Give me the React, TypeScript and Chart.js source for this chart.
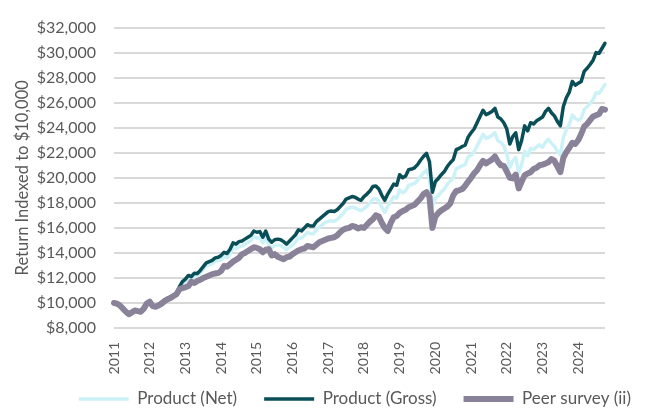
import React, { useEffect, useRef } from 'react';
import { Chart, registerables } from 'chart.js';

Chart.register(...registerables);

const years = ['2011', '2012', '2013', '2014', '2015', '2016', '2017', '2018', '2019', '2020', '2021', '2022', '2023', '2024'];

const seriesNames = ['Product (Net)', 'Product (Gross)', 'Peer survey (ii)'];

const grossValues = [
  10000, 9950, 9800, 9600, 9350, 9150, 9300, 9450, 9350, 9300, 9600, 10000,
  10100, 9750, 9750, 9900, 10050, 10250, 10350, 10500, 10600, 10800, 11300, 11700,
  11900, 12200, 12100, 12380, 12350, 12600, 12900, 13200, 13300, 13400, 13600, 13650,
  13800, 14050, 13950, 14300, 14800, 14700, 14900, 14950, 15100, 15250, 15400, 15750,
  15650, 15700, 15250, 15750, 15100, 14850, 15050, 15100, 15050, 14900, 14700, 14950,
  15200, 15450, 15850, 15750, 16000, 16250, 16150, 16150, 16500, 16700, 16900, 17100,
  17300, 17350, 17300, 17450, 17700, 17950, 18300, 18400, 18500, 18450, 18300, 18200,
  18500, 18700, 18950, 19300, 19350, 19100, 18600, 18200, 18700, 19100, 19500, 19400,
  20250, 20000, 20150, 20650, 20700, 20800, 21050, 21400, 21700, 21950, 21300, 18850,
  19700, 19950, 20250, 20500, 20900, 21200, 21450, 22250, 22350, 22500, 22600, 23250,
  23600, 23900, 24400, 24900, 25400, 25050, 25150, 25300, 25550, 24850, 24700, 24400,
  23900, 22700, 23300, 23600, 22250, 23000, 24150, 23750, 24400, 24300, 24550, 24700,
  24850, 25300, 25550, 25200, 24950, 24500, 24150, 25700, 26400, 26850, 27700, 27400,
  27550, 27700, 28500, 28750, 29050, 29400, 30000, 29950, 30350, 30750,
];

const netValues = [
  10000, 9940, 9790, 9585, 9330, 9130, 9275, 9420, 9320, 9265, 9560, 9955,
  10050, 9700, 9690, 9840, 9980, 10180, 10270, 10420, 10510, 10700, 11190, 11580,
  11720, 12010, 11910, 12180, 12150, 12390, 12680, 12970, 13060, 13150, 13340, 13390,
  13455, 13700, 13600, 13940, 14420, 14320, 14510, 14560, 14700, 14840, 14980, 15320,
  15180, 15230, 14790, 15270, 14640, 14400, 14590, 14640, 14590, 14440, 14250, 14490,
  14620, 14860, 15240, 15150, 15390, 15630, 15530, 15530, 15860, 16050, 16240, 16430,
  16520, 16570, 16520, 16660, 16900, 17140, 17470, 17570, 17660, 17610, 17470, 17370,
  17540, 17730, 17960, 18290, 18340, 18100, 17630, 17250, 17720, 18100, 18480, 18380,
  19030, 18800, 18940, 19410, 19460, 19550, 19780, 20110, 20390, 20630, 20020, 17720,
  18360, 18590, 18870, 19100, 19480, 19750, 19990, 20730, 20830, 20970, 21060, 21670,
  21800, 22080, 22540, 23000, 23470, 23150, 23240, 23380, 23610, 22960, 22820, 22550,
  21890, 20790, 21340, 21620, 20380, 21070, 22120, 21760, 22350, 22260, 22490, 22630,
  22440, 22850, 23070, 22760, 22530, 22120, 21810, 23210, 23840, 24250, 25010, 24740,
  24600, 24740, 25450, 25670, 25940, 26250, 26790, 26750, 27100, 27460,
];

const peerValues = [
  10000, 9950, 9800, 9550, 9300, 9100, 9250, 9400, 9350, 9300, 9550, 9950,
  10100, 9750, 9700, 9800, 9950, 10150, 10300, 10400, 10550, 10700, 11100, 11200,
  11250, 11350, 11700, 11600, 11750, 11850, 12000, 12100, 12200, 12300, 12350, 12400,
  12550, 12950, 12900, 13100, 13300, 13450, 13600, 13900, 14000, 14150, 14300, 14450,
  14400, 14300, 14050, 14250, 14300, 13800, 13900, 13700, 13600, 13500, 13650, 13700,
  13900, 14050, 14200, 14300, 14350, 14550, 14500, 14450, 14650, 14850, 14950, 15050,
  15150, 15200, 15250, 15400, 15650, 15850, 15950, 16000, 16150, 16100, 15950, 16050,
  16000, 16250, 16500, 16700, 17000, 16900, 16400, 16000, 15750, 16400, 16850, 16950,
  17200, 17350, 17450, 17650, 17750, 17850, 18100, 18350, 18700, 18850, 18500, 16000,
  16900, 17200, 17400, 17550, 17700, 17950, 18600, 18950, 19000, 19100, 19350, 19700,
  20000, 20350, 20600, 21000, 21350, 21150, 21300, 21450, 21700, 21300, 21000, 20950,
  20500, 20000, 19950, 20250, 19150, 19700, 20200, 20350, 20450, 20700, 20800, 21000,
  21050, 21150, 21250, 21500, 21350, 20900, 20450, 21600, 22050, 22400, 22800, 22700,
  23000, 23500, 24100, 24300, 24600, 24900, 25000, 25100, 25500, 25450,
];

const yMin = 8000;
const yMax = 32000;
const yStep = 2000;
const yTitle = 'Return Indexed to $10,000';

const TEXT = '#595959';
const FONT = 'Lato, "Open Sans", sans-serif';

export default function App() {
  const ref = useRef<HTMLCanvasElement | null>(null);

  useEffect(() => {
    document.body.style.margin = '0';
    const canvas = ref.current;
    if (!canvas) return;
    const labels = grossValues.map((_, i) => years[Math.floor(i / 12)] ?? '');

    const chart = new Chart(canvas, {
      type: 'line',
      data: {
        labels,
        datasets: [
          {
            label: seriesNames[0],
            data: netValues,
            borderColor: '#ccf2f7',
            backgroundColor: '#ccf2f7',
            borderWidth: 3.5,
            order: 2,
          },
          {
            label: seriesNames[1],
            data: grossValues,
            borderColor: '#0a4f58',
            backgroundColor: '#0a4f58',
            borderWidth: 3.5,
            order: 1,
          },
          {
            label: seriesNames[2],
            data: peerValues,
            borderColor: '#8a8298',
            backgroundColor: '#8a8298',
            borderWidth: 6,
            order: 0,
          },
        ],
      },
      options: {
        responsive: false,
        animation: false,
        devicePixelRatio: 1,
        layout: { padding: { top: 11, right: 46, bottom: 0, left: 0 } },
        elements: {
          point: { radius: 0, hoverRadius: 0 },
          line: { tension: 0, borderJoinStyle: 'round', borderCapStyle: 'round' },
        },
        plugins: {
          tooltip: { enabled: false },
          legend: {
            position: 'bottom',
            align: 'start',
            labels: {
              usePointStyle: true,
              pointStyle: 'line',
              pointStyleWidth: 50,
              padding: 27,
              color: TEXT,
              font: { family: FONT, size: 17 },
              sort: (a: any, b: any) => a.datasetIndex - b.datasetIndex,
            },
          },
        },
        scales: {
          x: {
            type: 'category',
            grid: { display: false },
            border: { display: false },
            afterFit: (s: any) => { s.height = 61; },
            ticks: {
              autoSkip: false,
              minRotation: 90,
              maxRotation: 90,
              padding: 6,
              color: TEXT,
              font: { family: FONT, size: 14 },
              callback: (_v: any, i: number) => (i % 12 === 0 ? labels[i] : null),
            },
          },
          y: {
            min: yMin,
            max: yMax,
            border: { display: false },
            grid: { color: '#d9d9d9', lineWidth: 2, drawTicks: false },
            afterFit: (s: any) => { s.width = 114; },
            title: {
              display: true,
              text: yTitle,
              color: TEXT,
              font: { family: FONT, size: 16.5 },
              padding: { top: 13, bottom: 0 },
            },
            ticks: {
              stepSize: yStep,
              padding: 18,
              color: TEXT,
              font: { family: FONT, size: 16 },
              callback: (v: any) => '$' + Number(v).toLocaleString('en-US'),
            },
          },
        },
      },
    });

    const legend: any = (chart as any).legend;
    if (legend) {
      const origFit = legend.fit.bind(legend);
      legend.fit = function () {
        origFit();
        this.height = 20;
      };
      const origDraw = legend.draw.bind(legend);
      legend.draw = function () {
        const saved = { top: this.top, left: this.left, right: this.right };
        this.top = saved.top - 25.5;
        this.left = 51.75;
        this.right = 2000;
        origDraw();
        this.top = saved.top;
        this.left = saved.left;
        this.right = saved.right;
      };
      chart.update();
    }

    return () => chart.destroy();
  }, []);

  return (
    <div style={{ width: 651, height: 409, position: 'relative' }}>
      <canvas ref={ref} width={651} height={409} style={{ display: 'block' }} />
    </div>
  );
}
